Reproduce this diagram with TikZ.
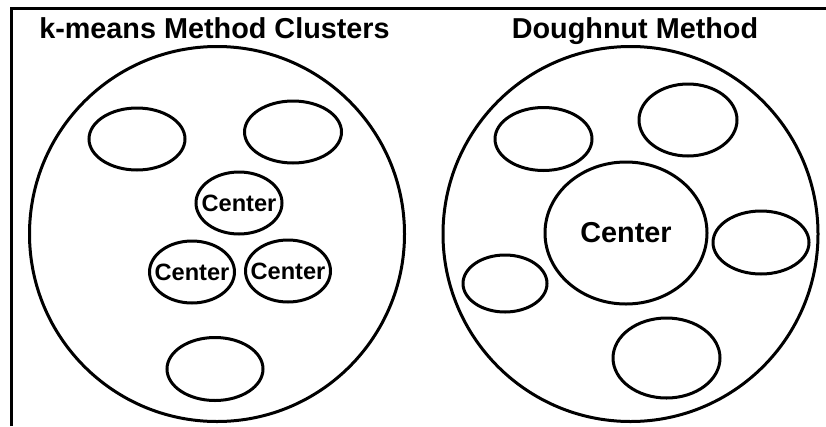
\documentclass[tikz,border=0pt]{standalone}
\usepackage{fontspec}
\setmainfont{Liberation Sans}
\usetikzlibrary{shapes.geometric}

\tikzstyle{group}=[circle,line width=3pt,draw=black,minimum size=375pt,inner sep=0pt]
\tikzstyle{cluster}=[ellipse,line width=3pt,draw=black,inner sep=0pt]
\tikzstyle{heading}=[anchor=base,font=\bfseries\fontsize{28.8}{30}\selectfont]
\tikzstyle{small}=[font=\bfseries\fontsize{23.6}{24}\selectfont]
\tikzstyle{big}=[font=\bfseries\fontsize{28.8}{30}\selectfont]

\begin{document}
\begin{tikzpicture}[x=1pt,y=-1pt]
  \useasboundingbox (0,0) rectangle (826,426);

  % frame
  \coordinate (fbot) at (11.5,426);
  \coordinate (fright) at (826,8.5);
  \draw [line width=2.5pt] (fbot) |- (fright);

  \begin{scope}
    % k-means side
    \node [heading] (t1) at (214.5,38) {k-means Method Clusters};
    \node [group] (g1) at (217,234) {};

    \node [cluster,minimum width=96pt,minimum height=62pt] (a1) at (137,139) {};
    \node [cluster,minimum width=97pt,minimum height=62pt] (a2) at (293,132) {};
    \node [cluster,minimum width=96pt,minimum height=63pt] (a3) at (215,369) {};

    \node [cluster,minimum width=86pt,minimum height=62pt,label={[small]center:Center}] (c1) at (239,203) {};
    \node [cluster,minimum width=85pt,minimum height=62pt,label={[small]center:Center}] (c2) at (192,272) {};
    \node [cluster,minimum width=85pt,minimum height=62pt,label={[small]center:Center}] (c3) at (288,271) {};
  \end{scope}

  \begin{scope}
    % doughnut side
    \node [heading] (t2) at (635,38) {Doughnut Method};
    \node [group] (g2) at (630.5,234) {};

    \node [cluster,minimum width=162pt,minimum height=142pt,label={[big]center:Center}] (c4) at (626,233) {};

    \node [cluster,minimum width=97pt,minimum height=63pt] (b1) at (543.5,139) {};
    \node [cluster,minimum width=98pt,minimum height=72pt] (b2) at (688,120) {};
    \node [cluster,minimum width=96pt,minimum height=63pt] (b3) at (761,242.5) {};
    \node [cluster,minimum width=84pt,minimum height=57pt] (b4) at (505,283.5) {};
    \node [cluster,minimum width=107pt,minimum height=80pt] (b5) at (666.5,358) {};
  \end{scope}

\end{tikzpicture}
\end{document}
